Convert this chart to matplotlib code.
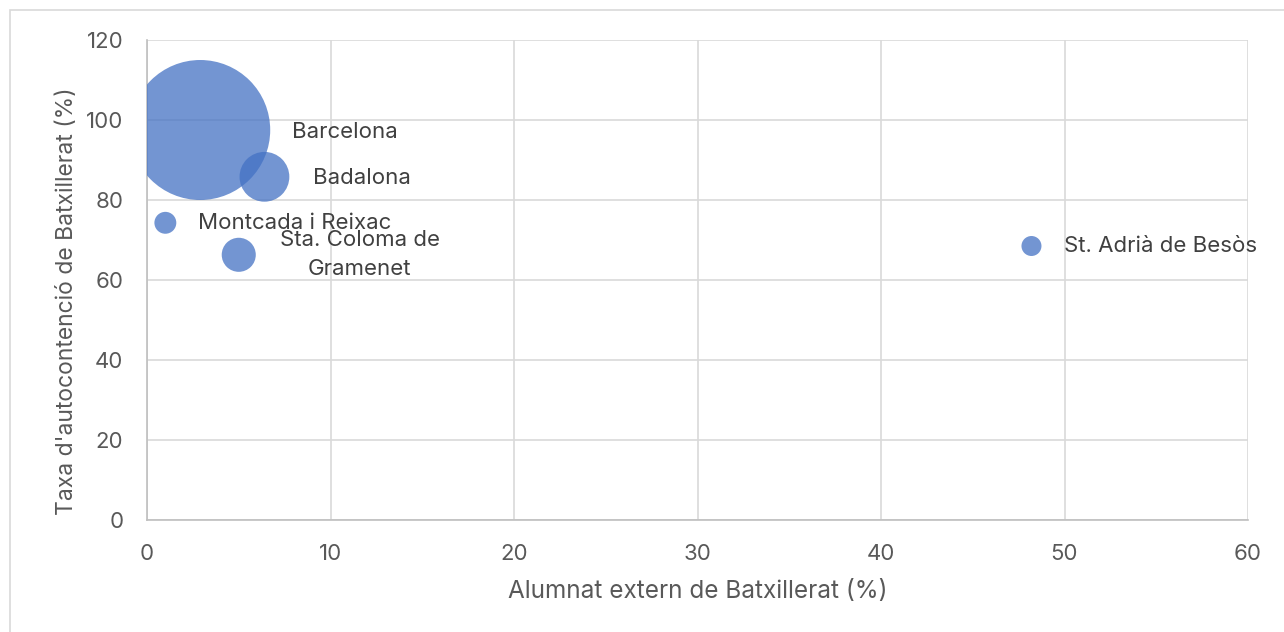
import matplotlib
matplotlib.use('Agg')
from matplotlib import pyplot as plt
from matplotlib.patches import Rectangle
import numpy as np

plt.rcParams['font.family'] = ['Inter', 'DejaVu Sans']

# data
municipis = ['Barcelona', 'Badalona', 'Montcada i Reixac', 'Sta. Coloma de\nGramenet', 'St. Adrià de Besòs']
alumnat_extern = [2.9, 6.4, 1.0, 5.0, 48.2]      # %
autocontencio = [97.5, 85.8, 74.3, 66.3, 68.5]   # %
mida_bombolla = [24500, 3100, 600, 1450, 500]     # bubble size value

# label offsets in pixels (x, y) and alignment
offsets = [(92, -2), (49, -1), (33, 0), (121, 0), (33, 0)]
aligns = ['left', 'left', 'left', 'center', 'left']

dpi = 100
fig = plt.figure(figsize=(12.84, 6.32), dpi=dpi)
fig.patches.append(Rectangle((10 / 1284, -0.1), 1.2, (622 / 632) + 0.1, transform=fig.transFigure,
                             fill=False, edgecolor='#D9D9D9', linewidth=1.2))
ax = fig.add_axes([147 / 1284, 112 / 632, 1101 / 1284, 480 / 632])

# bubble area proportional to value, largest radius ~70px
r_max = 70
sizes = np.array(mida_bombolla, dtype=float)
radii = r_max * np.sqrt(sizes / sizes.max())
s = (2 * radii * 72 / dpi) ** 2
ax.scatter(alumnat_extern, autocontencio, s=s, color='#4472C4', alpha=0.75, linewidths=0, zorder=3)

for name, x, y, off, ha in zip(municipis, alumnat_extern, autocontencio, offsets, aligns):
    ax.annotate(name, (x, y), xytext=off, textcoords='offset pixels', ha=ha, va='center',
                fontsize=16, color='#404040', linespacing=1.55, zorder=4)

ax.set_xlim(0, 60)
ax.set_ylim(0, 120)
ax.set_xticks(range(0, 61, 10))
ax.set_yticks(range(0, 121, 20))
ax.grid(True, color='#D9D9D9', linewidth=1.2, zorder=0)
ax.set_axisbelow(True)
for side in ['top', 'right']:
    ax.spines[side].set_visible(False)
for side in ['left', 'bottom']:
    ax.spines[side].set_color('#BFBFBF')
    ax.spines[side].set_linewidth(1.2)
ax.tick_params(length=0, labelsize=16, labelcolor='#595959')
ax.tick_params(axis='x', pad=17)
ax.tick_params(axis='y', pad=17)

ax.set_xlabel('Alumnat extern de Batxillerat (%)', fontsize=17.5, color='#595959')
ax.set_ylabel("Taxa d'autocontenció de Batxillerat (%)", fontsize=16.5, color='#595959')
ax.xaxis.set_label_coords(0.5, -0.125)
ax.yaxis.set_label_coords(-0.063, 0.455)

fig.savefig('out.png', dpi=dpi)
